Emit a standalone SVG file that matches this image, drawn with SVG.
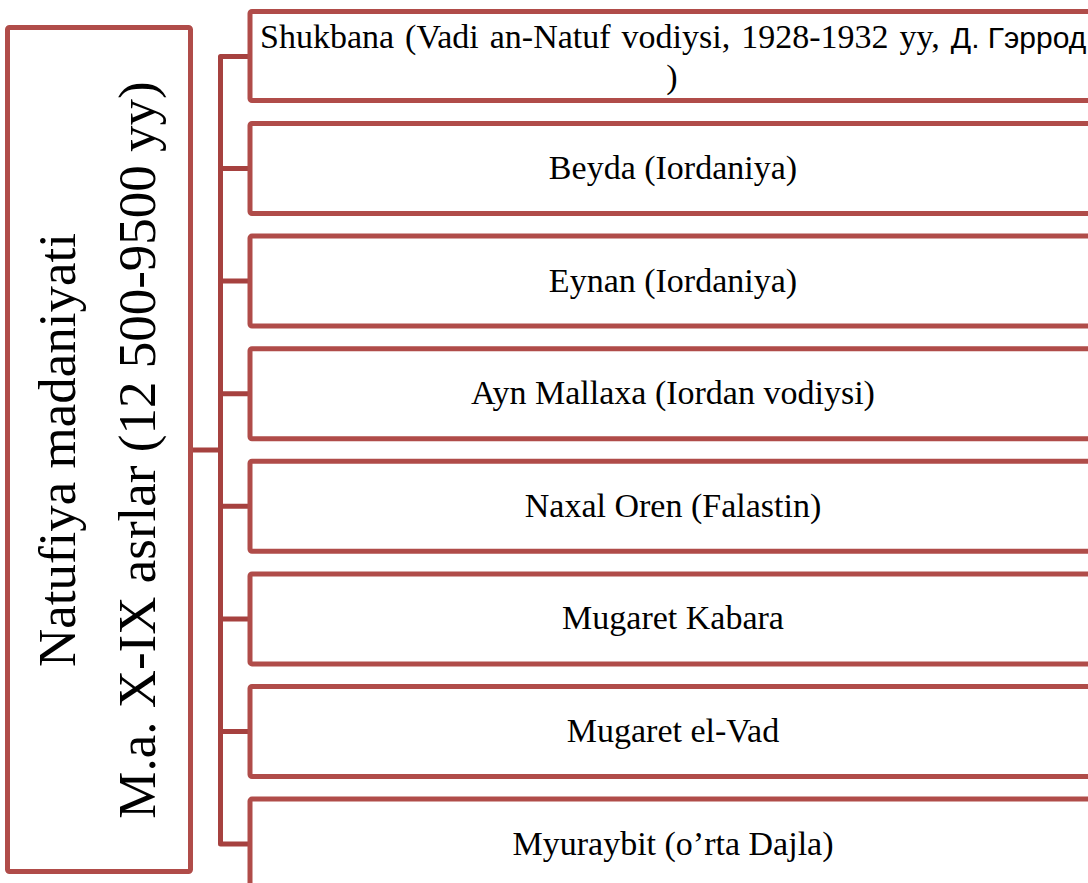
<svg xmlns="http://www.w3.org/2000/svg" width="1088" height="883" viewBox="0 0 1088 883">
<style>
.box{fill:#ffffff;stroke:#b04c49;stroke-width:5;stroke-linejoin:round}
.conn{fill:none;stroke:#a6413f;stroke-width:5;stroke-linejoin:round}
.t{font-family:"Liberation Serif","Times New Roman",serif;font-size:34px;fill:#000;text-anchor:middle}
.main{font-family:"Liberation Serif","Times New Roman",serif;font-size:53px;fill:#000;text-anchor:middle}
.sans{font-family:"Liberation Sans",Arial,sans-serif;font-size:30px}
</style>
<rect width="1088" height="883" fill="#ffffff"/>
<g id="connectors">
<path class="conn" d="M190,450 H220.5 M250,56.5 H220.5 V844.1 H250 M220.5,168.5 H250 M220.5,281.1 H250 M220.5,393.7 H250 M220.5,506.3 H250 M220.5,618.9 H250 M220.5,731.5 H250"/>
</g>
<g id="root">
<rect class="box" x="7.5" y="27.5" width="183" height="844" rx="2"/>
<text class="main" transform="translate(75,450) rotate(-90)" x="0" y="0">Natufiya madaniyati</text>
<text class="main" transform="translate(155,450) rotate(-90)" x="0" y="0">M.a. X-IX asrlar (12 500-9500 yy)</text>
</g>
<g id="n1">
<rect class="box" x="250" y="11.5" width="900" height="89" rx="2"/>
<text class="t" x="260" y="47.5" style="text-anchor:start;word-spacing:2.5px">Shukbana (Vadi an-Natuf vodiysi, 1928-1932 yy, <tspan class="sans" style="word-spacing:0">Д. Гэррод</tspan></text>
<text class="t" x="672" y="88">)</text>
</g>
<g id="n2">
<rect class="box" x="250" y="123.5" width="900" height="90" rx="2"/>
<text class="t" x="673" y="179">Beyda (Iordaniya)</text>
</g>
<g id="n3">
<rect class="box" x="250" y="236.1" width="900" height="90" rx="2"/>
<text class="t" x="673" y="291.6">Eynan (Iordaniya)</text>
</g>
<g id="n4">
<rect class="box" x="250" y="348.7" width="900" height="90" rx="2"/>
<text class="t" x="673" y="404.2">Ayn Mallaxa (Iordan vodiysi)</text>
</g>
<g id="n5">
<rect class="box" x="250" y="461.3" width="900" height="90" rx="2"/>
<text class="t" x="673" y="516.8">Naxal Oren (Falastin)</text>
</g>
<g id="n6">
<rect class="box" x="250" y="573.9" width="900" height="90" rx="2"/>
<text class="t" x="673" y="629.4">Mugaret Kabara</text>
</g>
<g id="n7">
<rect class="box" x="250" y="686.5" width="900" height="90" rx="2"/>
<text class="t" x="673" y="742">Mugaret el-Vad</text>
</g>
<g id="n8">
<rect class="box" x="250" y="799.1" width="900" height="90" rx="2"/>
<text class="t" x="673" y="854.6">Myuraybit (o’rta Dajla)</text>
</g>
</svg>
